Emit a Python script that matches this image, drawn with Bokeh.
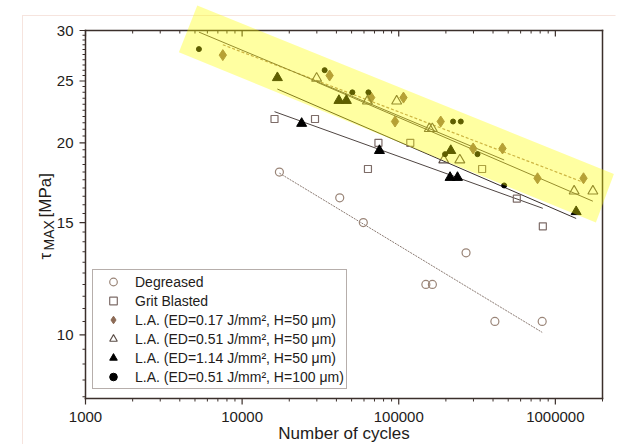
import numpy as np
from bokeh.plotting import figure
from bokeh.models import Range1d
from bokeh.core.properties import value
from bokeh.embed import file_html
from bokeh.resources import INLINE

FONT = "Liberation Sans"
TXT = "#231c1a"
AX = "#3b2f2b"

# ---------------- data ----------------
deg_N = [17300, 42000, 59400, 149000, 164000, 269000, 411000, 824000]
deg_tau = [18.0, 16.4, 15.0, 12.0, 12.0, 13.45, 10.5, 10.5]

grit_N = [16100, 29200, 63600, 74200, 118500, 340700, 567600, 831800]
grit_tau = [21.8, 21.8, 18.2, 20.0, 20.0, 18.2, 16.35, 14.8]

d017_N = [7530, 36200, 66700, 94700, 107200, 185400, 298600, 459800, 769600, 1513000]
d017_tau = [27.45, 25.5, 23.55, 21.6, 23.55, 21.6, 19.6, 19.6, 17.6, 17.6]

t051_N = [29900, 63100, 97000, 156700, 163800, 193900, 245500, 1318000, 1736000]
t051_tau = [25.25, 23.25, 23.25, 21.05, 21.05, 18.8, 18.8, 16.8, 16.8]

t114_N = [16800, 24000, 41500, 46300, 75300, 214900, 212700, 237200, 1358000]
t114_tau = [25.3, 21.45, 23.3, 23.3, 19.45, 19.45, 17.65, 17.65, 15.6]

dot_N = [5300, 33650, 50570, 64020, 197600, 222300, 249000, 318300, 471000]
dot_tau = [28.05, 26.0, 24.0, 24.0, 19.2, 21.6, 21.6, 19.2, 17.15]

# highlighted band (corners, N / tau)
band_N = [5172, 2365000, 1815000, 3947]
band_tau = [32.84, 17.87, 15.0, 27.74]

x_major = [1000, 10000, 100000, 1000000]
x_minor = [m * 10 ** d for d in range(3, 7) for m in range(2, 10) if m * 10 ** d <= 2e6]
y_major = [10, 15, 20, 25, 30]
y_minor = [float(v) for v in np.arange(8.0, 30.01, 0.5) if v not in y_major]
x_tick_labels = [str(v) for v in x_major]
y_tick_labels = [str(v) for v in y_major]

labels = ["Degreased", "Grit Blasted",
          "L.A. (ED=0.17 J/mm², H=50 μm)",
          "L.A. (ED=0.51 J/mm², H=50 μm)",
          "L.A. (ED=1.14 J/mm², H=50 μm)",
          "L.A. (ED=0.51 J/mm², H=100 μm)"]

# axis limits of the chart
X0, X1 = 1000.0, 2e6
Y0, Y1 = 7.95, 30.0

# ---------------- layout (pixels) ----------------
W, H = 622, 444
L, R, T, B = 85, 602, 30, 398
ppd_x = (R - L) / np.log10(X1 / X0)
ppd_y = (B - T) / np.log10(Y1 / Y0)


def px2x(px):
    return float(10 ** (np.log10(X0) + (px - L) / ppd_x))


def py2y(py):
    return float(10 ** (np.log10(Y1) - (py - T) / ppd_y))


def sx(v, d):  # shift x data values by d pixels
    return list(np.asarray(v, float) * 10 ** (d / ppd_x))


def sy(v, d):  # shift y data values down by d pixels
    return list(np.asarray(v, float) * 10 ** (-d / ppd_y))


p = figure(width=W, height=H, x_axis_type="log", y_axis_type="log",
           x_range=Range1d(px2x(0), px2x(W)), y_range=Range1d(py2y(H), py2y(0)),
           x_axis_location=None, y_axis_location=None,
           output_backend="svg", toolbar_location=None, min_border=0)
p.grid.visible = False
p.outline_line_color = None
p.background_fill_color = "white"
p.border_fill_color = "white"

# faint outer border of the original figure
p.quad(left=[px2x(22), px2x(21.5)], right=[px2x(615), px2x(22.5)],
       top=[py2y(14.5), py2y(14.5)], bottom=[py2y(15.5), py2y(H + 2)],
       fill_color="#f6e4de", line_color=None)

# ---------------- frame and tick marks ----------------
fw = 0.75
up = 10 ** (fw / ppd_y)
p.quad(left=[px2x(L - fw)] * 2 + [px2x(L - fw), px2x(R - fw)],
       right=[px2x(R + fw)] * 2 + [px2x(L + fw), px2x(R + fw)],
       top=[Y1 * up, Y0 * up, Y1 * up, Y1 * up],
       bottom=[Y1 / up, Y0 / up, Y0 / up, Y0 / up],
       fill_color=AX, line_color=None)
# bottom (outward) and top (inward) x ticks
p.quad(left=sx(x_major, -0.6), right=sx(x_major, 0.6),
       top=[Y0] * len(x_major), bottom=sy([Y0] * len(x_major), 6),
       fill_color=AX, line_color=None)
p.quad(left=sx(x_minor, -0.5), right=sx(x_minor, 0.5),
       top=[Y0] * len(x_minor), bottom=sy([Y0] * len(x_minor), 3),
       fill_color=AX, line_color=None)
p.quad(left=sx(x_major, -0.6), right=sx(x_major, 0.6),
       top=[Y1] * len(x_major), bottom=sy([Y1] * len(x_major), 6),
       fill_color=AX, line_color=None)
p.quad(left=sx(x_minor, -0.5), right=sx(x_minor, 0.5),
       top=[Y1] * len(x_minor), bottom=sy([Y1] * len(x_minor), 3),
       fill_color=AX, line_color=None)
# left (outward) y ticks
p.quad(left=[px2x(L - 6)] * len(y_major), right=[px2x(L)] * len(y_major),
       top=sy(y_major, -0.6), bottom=sy(y_major, 0.6),
       fill_color=AX, line_color=None)
p.quad(left=[px2x(L - 3)] * len(y_minor), right=[px2x(L)] * len(y_minor),
       top=sy(y_minor, -0.5), bottom=sy(y_minor, 0.5),
       fill_color=AX, line_color=None)


def fit(N, tau):
    X = np.log10(N)
    Y = np.log10(tau)
    b, a = np.polyfit(X, Y, 1)
    xs = np.array([min(X), max(X)])
    return list(10 ** xs), list(10 ** (a + b * xs))


# fit lines
fx, fy = fit(deg_N, deg_tau)
p.line(fx, fy, line_color="#8a7a72", line_width=1, line_dash="2 1")
fx, fy = fit(grit_N, grit_tau)
p.line(fx, fy, line_color="#4f4542", line_width=1)
fx, fy = fit(d017_N, d017_tau)
p.line(fx, fy, line_color="#b08a68", line_width=1.2, line_dash="3 2")
fx, fy = fit(t051_N, t051_tau)
p.line(fx, fy, line_color="#5a4c46", line_width=1)
fx, fy = fit(t114_N, t114_tau)
p.line(fx, fy, line_color="#3a302c", line_width=1)
fx, fy = fit(dot_N, dot_tau)
p.line(fx, fy, line_color="#5a4c46", line_width=1)

# points
p.scatter(deg_N, deg_tau, marker="circle", size=8, fill_color=None,
          line_color="#9a8578", line_width=1.2, legend_label=labels[0])
p.scatter(grit_N, grit_tau, marker="square", size=7, fill_color=None,
          line_color="#7d6c68", line_width=1.2, legend_label=labels[1])
p.scatter(d017_N, d017_tau, marker="diamond", size=11,
          fill_color="#8c6a55", line_color="#8c6a55", legend_label=labels[2])
p.scatter(t051_N, t051_tau, marker="triangle", size=10, fill_color=None,
          line_color="#5a4c46", line_width=1.1, legend_label=labels[3])
p.scatter(t114_N, t114_tau, marker="triangle", size=10, fill_color="black",
          line_color="black", legend_label=labels[4])
p.scatter(dot_N, dot_tau, marker="circle", size=5, fill_color="black",
          line_color="black", legend_label=labels[5])

# highlight band on top of points and frame
p.patch(band_N, band_tau, fill_color="#ffff00", fill_alpha=0.37, line_color=None)

# ---------------- tick labels and titles ----------------
p.text(x=x_major, y=[py2y(416)] * len(x_major), text=x_tick_labels,
       text_align="center", text_baseline="middle", text_font=value(FONT),
       text_font_size="15px", text_color=TXT)
p.text(x=[px2x(73)] * len(y_major), y=y_major, text=y_tick_labels,
       text_align="right", text_baseline="middle", text_font=value(FONT),
       text_font_size="15px", text_color=TXT)
p.text(x=[px2x((L + R) / 2)], y=[py2y(433)], text=["Number of cycles"],
       text_align="center", text_baseline="middle", text_font=value(FONT),
       text_font_size="17px", text_color=TXT)
p.text(x=[px2x(45)], y=[py2y(259)], text=["τ"], angle=np.pi / 2,
       text_align="left", text_baseline="alphabetic", text_font=value(FONT),
       text_font_size="17px", text_color=TXT)
p.text(x=[px2x(48)], y=[py2y(250)], text=["MAX"], angle=np.pi / 2,
       text_align="left", text_baseline="alphabetic", text_font=value(FONT),
       text_font_size="14px", text_color=TXT)
p.text(x=[px2x(45)], y=[py2y(217)], text=["[MPa]"], angle=np.pi / 2,
       text_align="left", text_baseline="alphabetic", text_font=value(FONT),
       text_font_size="17px", text_color=TXT)

# ---------------- legend ----------------
lg = p.legend[0]
lg.location = (92, H - 389)
lg.margin = 0
lg.padding = 2
lg.spacing = 0
lg.glyph_width = 36
lg.glyph_height = 19
lg.label_height = 19
lg.label_standoff = 4
lg.label_text_font = FONT
lg.label_text_font_size = "14px"
lg.label_text_color = TXT
lg.border_line_color = "#6e5e58"
lg.border_line_width = 1
lg.background_fill_alpha = 1

open("out.html", "w").write(file_html(p, INLINE))
